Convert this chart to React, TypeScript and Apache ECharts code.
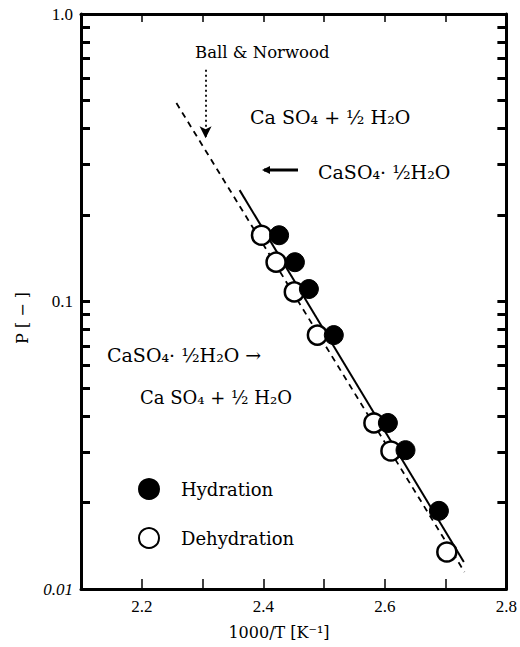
import React, { useEffect, useRef } from "react";
import * as echarts from "echarts";

const hydration: [number, number][] = [
  [2.426, 0.17],
  [2.452, 0.137],
  [2.475, 0.1105],
  [2.516, 0.0764],
  [2.605, 0.0378],
  [2.634, 0.0304],
  [2.689, 0.0187],
];
const dehydration: [number, number][] = [
  [2.397, 0.17],
  [2.421, 0.137],
  [2.451, 0.108],
  [2.489, 0.0764],
  [2.582, 0.0378],
  [2.61, 0.0302],
  [2.702, 0.01345],
];
const solidFit: [number, number][] = [
  [2.361, 0.244],
  [2.73, 0.01241],
];
const dashedFit: [number, number][] = [
  [2.257, 0.49],
  [2.731, 0.01146],
];
const arrowPts: [number, number][] = [
  [2.305, 0.64],
  [2.305, 0.37],
];
const xLabels = [2.2, 2.4, 2.6, 2.8];
const yLabelVals = [0.01, 0.1, 1];
const yTickVals = [
  0.01, 0.02, 0.03, 0.04, 0.05, 0.06, 0.07, 0.08, 0.09, 0.1, 0.2, 0.3, 0.4,
  0.5, 0.6, 0.7, 0.8, 0.9, 1,
];

const SERIF = "DejaVu Serif";
const TICKFONT = "Liberation Serif";

export default function App() {
  const ref = useRef<HTMLDivElement>(null);
  useEffect(() => {
    if (!ref.current) return;
    const chart = echarts.init(ref.current, null, { renderer: "svg" });
    const axisLine = { show: true, lineStyle: { color: "#000", width: 3 } };
    const xFmt = (v: number) => {
      const k = Math.round(v * 10);
      return xLabels.some((l) => Math.round(l * 10) === k) ? (k / 10).toFixed(1) : "";
    };
    const yFmt = (v: number) => {
      if (Math.abs(v - 1) < 1e-6) return "1.0";
      if (Math.abs(v - 0.1) < 1e-6) return "0.1";
      if (Math.abs(v - 0.01) < 1e-7) return "{i|0.01}";
      return "";
    };
    const textStyle = (t: string, x: number, y: number, size = 17) => ({
      type: "text",
      x,
      y,
      style: {
        text: t,
        fontFamily: SERIF,
        fontSize: size,
        fill: "#000",
        textVerticalAlign: "middle",
      },
    });
    chart.setOption({
      animation: false,
      backgroundColor: "#fff",
      grid: { left: 81, right: 11, top: 14, bottom: 58, containLabel: false },
      xAxis: [
        {
          type: "value",
          min: 2.1,
          max: 2.8,
          interval: 0.1,
          position: "bottom",
          axisLine,
          axisTick: { inside: true, length: 10, lineStyle: { color: "#000", width: 1.5 } },
          axisLabel: {
            formatter: xFmt,
            fontFamily: TICKFONT,
            fontSize: 17,
            color: "#000",
            margin: 9,
          },
          splitLine: { show: false },
        },
        {
          type: "value",
          min: 2.1,
          max: 2.8,
          interval: 0.1,
          position: "top",
          axisLine,
          axisTick: { inside: true, length: 8, lineStyle: { color: "#000", width: 1.5 } },
          axisLabel: { show: false },
          splitLine: { show: false },
        },
      ],
      yAxis: [
        {
          type: "log",
          logBase: 10,
          min: 0.01,
          max: 1,
          position: "left",
          axisLine,
          axisTick: {
            inside: true,
            length: 9,
            customValues: yTickVals,
            lineStyle: { color: "#000", width: 3 },
          },
          axisLabel: {
            customValues: yLabelVals,
            formatter: yFmt,
            fontFamily: TICKFONT,
            fontSize: 17,
            color: "#000",
            margin: 8,
            rich: { i: { fontStyle: "italic", fontFamily: TICKFONT, fontSize: 17, color: "#000" } },
          },
          splitLine: { show: false },
          minorTick: { show: false },
        },
        {
          type: "log",
          logBase: 10,
          min: 0.01,
          max: 1,
          position: "right",
          axisLine,
          axisTick: {
            inside: true,
            length: 9,
            customValues: yTickVals,
            lineStyle: { color: "#000", width: 3 },
          },
          axisLabel: { show: false },
          splitLine: { show: false },
        },
      ],
      legend: {
        left: 133,
        top: 473,
        orient: "vertical",
        itemWidth: 20,
        itemHeight: 20,
        itemGap: 27,
        selectedMode: false,
        data: ["Hydration", "Dehydration"],
        textStyle: {
          fontFamily: SERIF,
          fontSize: 18,
          color: "#000",
          padding: [0, 0, 0, 17],
        },
      },
      series: [
        {
          type: "line",
          data: dashedFit,
          symbol: "none",
          lineStyle: { color: "#000", width: 1.8, type: [6, 5] },
          silent: true,
          z: 1,
          markLine: {
            silent: true,
            symbol: ["none", "arrow"],
            symbolSize: [9, 12],
            label: { show: false },
            lineStyle: { color: "#000", width: 1.8, type: [2, 3] },
            data: [
              [
                { coord: arrowPts[0] },
                { coord: arrowPts[1] },
              ],
            ],
          },
        },
        {
          type: "line",
          data: solidFit,
          symbol: "none",
          lineStyle: { color: "#000", width: 2 },
          silent: true,
          z: 1,
        },
        {
          name: "Dehydration",
          type: "scatter",
          data: dehydration,
          symbol: "circle",
          symbolSize: 19,
          itemStyle: { color: "#fff", borderColor: "#000", borderWidth: 2.5, opacity: 1 },
          z: 2,
        },
        {
          name: "Hydration",
          type: "scatter",
          data: hydration,
          symbol: "circle",
          symbolSize: 19,
          itemStyle: { color: "#000", borderColor: "#000", borderWidth: 1, opacity: 1 },
          z: 3,
        },
      ],
      graphic: [
        textStyle("Ball & Norwood", 195, 52, 16.5),
        textStyle("Ca SO₄ + ½ H₂O", 250, 117, 19),
        {
          type: "line",
          shape: { x1: 264, y1: 170, x2: 298, y2: 170 },
          style: { stroke: "#000", lineWidth: 3 },
        },
        {
          type: "polygon",
          shape: { points: [[262, 170], [270, 166], [270, 174]] },
          style: { fill: "#000" },
        },
        textStyle("CaSO₄· ½H₂O", 318, 172, 19),
        textStyle("CaSO₄· ½H₂O →", 107, 355, 19),
        textStyle("Ca SO₄ + ½ H₂O", 140, 397, 18),
        {
          type: "text",
          x: 279,
          y: 632,
          style: {
            text: "1000/T [K⁻¹]",
            fontFamily: SERIF,
            fontSize: 16,
            fill: "#000",
            textAlign: "center",
            textVerticalAlign: "middle",
          },
        },
        {
          type: "text",
          x: 22,
          y: 318,
          rotation: Math.PI / 2,
          style: {
            text: "P [ − ]",
            fontFamily: SERIF,
            fontSize: 16,
            fill: "#000",
            textAlign: "center",
            textVerticalAlign: "middle",
          },
        },
      ],
    });
    return () => chart.dispose();
  }, []);
  return <div ref={ref} style={{ width: 520, height: 647, position: "absolute", left: 0, top: 0 }} />;
}
